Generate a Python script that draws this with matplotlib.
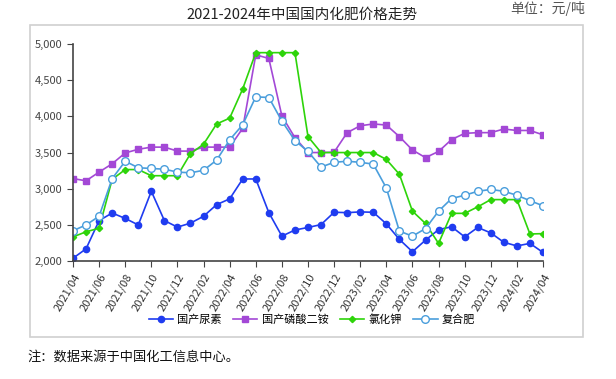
import matplotlib.pyplot as plt
import matplotlib.ticker as mticker
from matplotlib.patches import Rectangle

plt.rcParams["font.family"] = ["Noto Sans CJK SC", "DejaVu Sans"]

# 2021/04 - 2024/04 月度数据
months = [f"{y}/{m:02d}" for y, m in
          [(2021, m) for m in range(4, 13)] + [(2022, m) for m in range(1, 13)]
          + [(2023, m) for m in range(1, 13)] + [(2024, m) for m in range(1, 5)]]

urea = [2040, 2170, 2560, 2665, 2590, 2500, 2965, 2560, 2470, 2525, 2620, 2780,
        2860, 3135, 3135, 2670, 2345, 2430, 2465, 2505, 2675, 2670, 2680, 2675,
        2515, 2300, 2130, 2290, 2435, 2475, 2335, 2465, 2390, 2260, 2210, 2245, 2120]
dap = [3140, 3110, 3230, 3345, 3495, 3545, 3575, 3575, 3520, 3520, 3575, 3575,
       3575, 3835, 4850, 4800, 4005, 3705, 3500, 3500, 3505, 3775, 3870, 3895,
       3880, 3720, 3535, 3430, 3515, 3680, 3765, 3775, 3775, 3825, 3805, 3805, 3745]
potash = [2335, 2405, 2455, 3130, 3265, 3265, 3180, 3180, 3180, 3485, 3615, 3895,
          3975, 4380, 4880, 4880, 4880, 4880, 3720, 3500, 3500, 3500, 3500, 3500,
          3405, 3200, 2690, 2520, 2245, 2660, 2660, 2750, 2850, 2850, 2850, 2375, 2380]
compound = [2420, 2500, 2620, 3140, 3380, 3290, 3280, 3270, 3230, 3220, 3255, 3395,
            3675, 3885, 4270, 4260, 3935, 3665, 3515, 3300, 3365, 3380, 3365, 3340,
            3010, 2415, 2345, 2450, 2690, 2865, 2910, 2965, 2990, 2965, 2910, 2835, 2765]

x = list(range(len(months)))

fig = plt.figure(figsize=(6.16, 3.79), dpi=100)
ax = fig.add_axes([0.1185, 0.311, 0.763, 0.573])

# 外框
fig.patches.append(Rectangle((30 / 616, 1 - 337 / 379), 553 / 616, 312 / 379,
                             transform=fig.transFigure, fill=False,
                             edgecolor="#d0d0d0", linewidth=1.2))

ax.plot(x, urea, "-o", color="#1f3cf0", markersize=4.5, linewidth=1.2, label="国产尿素")
ax.plot(x, dap, "-s", color="#a348d6", markersize=4.5, linewidth=1.2, label="国产磷酸二铵")
ax.plot(x, potash, "-D", color="#2ed40a", markersize=3.2, linewidth=1.2, label="氯化钾")
ax.plot(x, compound, "-o", color="#4a9edc", markerfacecolor="white",
        markersize=5.5, linewidth=1.2, label="复合肥")

ax.set_xlim(0, len(months) - 1)
ax.set_ylim(2000, 5000)
ax.set_xticks(x[::2])
ax.set_xticklabels(months[::2], rotation=60, ha="right", rotation_mode="anchor",
                   fontsize=8, color="#333333")
ax.yaxis.set_major_locator(mticker.MultipleLocator(500))
ax.yaxis.set_major_formatter(mticker.FuncFormatter(lambda v, p: f"{v:,.0f}"))
ax.tick_params(axis="y", labelsize=8, colors="#444444", length=4)
ax.tick_params(axis="x", length=4, color="#444444")
for s in ["top", "right"]:
    ax.spines[s].set_visible(False)
for s in ["left", "bottom"]:
    ax.spines[s].set_color("#444444")
    ax.spines[s].set_linewidth(1.2)
for lbl in ax.get_yticklabels():
    lbl.set_color("#444444")

ax.legend(loc="center", bbox_to_anchor=(312 / 616, 1 - 320 / 379),
          bbox_transform=fig.transFigure, ncol=4, frameon=False, fontsize=8,
          handlelength=2.2, columnspacing=1.0, handletextpad=0.4)

fig.text(0.49, 1 - 15 / 379, "2021-2024年中国国内化肥价格走势", ha="center", va="center",
         fontsize=10.5, color="#222222")
fig.text(585 / 616, 1 - 8 / 379, "单位：元/吨", ha="right", va="center",
         fontsize=10, color="#555555")
fig.text(27 / 616, 1 - 357 / 379, "注：数据来源于中国化工信息中心。", ha="left", va="center",
         fontsize=9.5, color="#111111")

fig.savefig("out.png", dpi=100)
